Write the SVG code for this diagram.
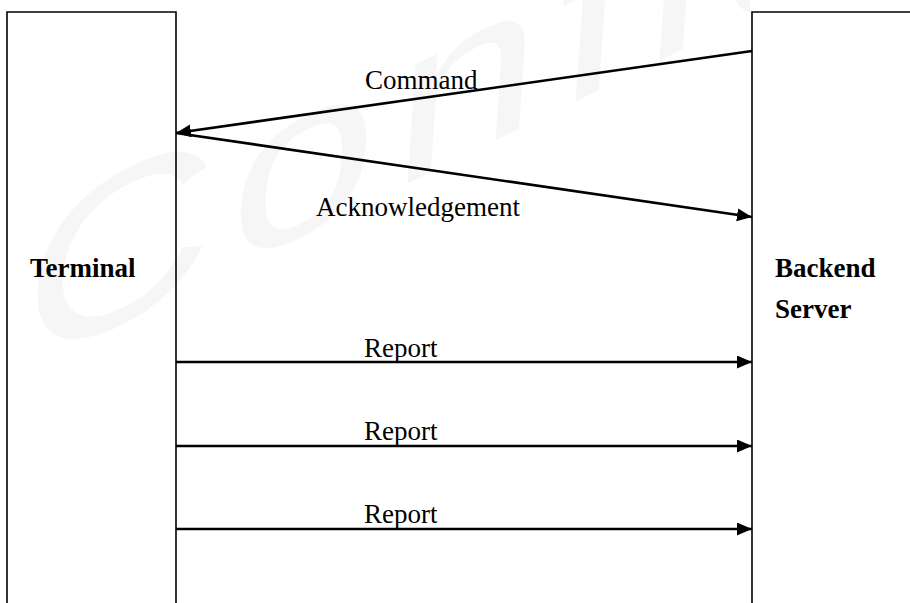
<svg xmlns="http://www.w3.org/2000/svg" width="910" height="603" viewBox="0 0 910 603">
<style>
.box{fill:none;stroke:#000;stroke-width:1.6}
.arr{fill:none;stroke:#000;stroke-width:2.6;marker-end:url(#ah)}
.lbl{font-family:"Liberation Serif","Times New Roman",serif;font-size:27px;fill:#000}
.nd{font-family:"Liberation Serif","Times New Roman",serif;font-size:27px;font-weight:bold;fill:#000}
.wm{font-family:"Liberation Sans",Arial,sans-serif;font-size:196px;letter-spacing:12px;fill:#f6f6f6}
</style>
<defs>
<marker id="ah" markerUnits="userSpaceOnUse" markerWidth="16" markerHeight="14" refX="15" refY="6.5" orient="auto">
<path d="M0,0 L15,6.5 L0,13 z" fill="#000"/>
</marker>
<clipPath id="wmclip"><rect x="0" y="0" width="750" height="603"/></clipPath>
</defs>
<rect width="910" height="603" fill="#fff"/>
<g clip-path="url(#wmclip)">
<text class="wm" transform="translate(19,373) rotate(-26) skewX(-30) scale(1.5,1)">Confidential</text>
</g>
<g id="terminal">
<path class="box" d="M7,603 V12 H176 V603"/>
<text class="nd" x="30" y="277">Terminal</text>
</g>
<g id="backend">
<path class="box" d="M752,603 V12 H910"/>
<text class="nd" x="775" y="277">Backend</text>
<text class="nd" x="775" y="318">Server</text>
</g>
<g id="connectors">
<line class="arr" x1="752" y1="51" x2="176" y2="133"/>
<line class="arr" x1="176" y1="133" x2="752" y2="217"/>
<line class="arr" x1="176" y1="362" x2="752" y2="362"/>
<line class="arr" x1="176" y1="446" x2="752" y2="446"/>
<line class="arr" x1="176" y1="529" x2="752" y2="529"/>
<text class="lbl" x="365" y="89">Command</text>
<text class="lbl" x="316" y="216">Acknowledgement</text>
<text class="lbl" x="364" y="357">Report</text>
<text class="lbl" x="364" y="440">Report</text>
<text class="lbl" x="364" y="523">Report</text>
</g>
</svg>
